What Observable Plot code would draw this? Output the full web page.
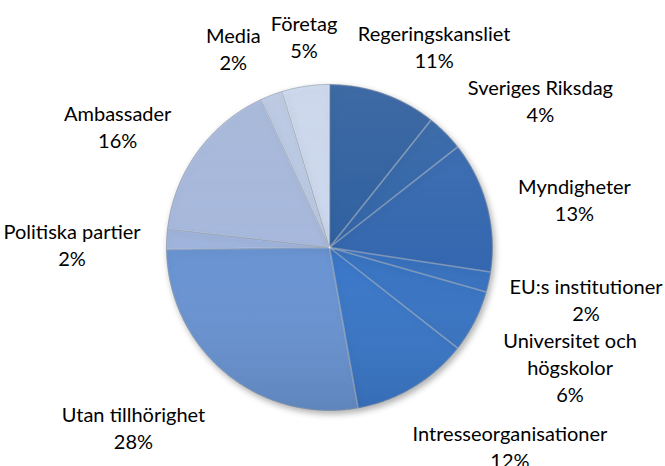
<!DOCTYPE html>
<html><head><meta charset="utf-8">
<script src="https://cdn.jsdelivr.net/npm/d3@7"></script>
<script src="https://cdn.jsdelivr.net/npm/@observablehq/plot@0.6"></script>
<style>
body{margin:0;background:#fff}
#chart svg g.slices{filter: drop-shadow(2px 3px 3px rgba(0,0,0,0.3));}
</style>
</head><body><div id="chart"></div>
<script>
// ---- data ----
const categories = ["Regeringskansliet","Sveriges Riksdag","Myndigheter","EU:s institutioner","Universitet och\nhögskolor","Intresseorganisationer","Utan tillhörighet","Politiska partier","Ambassader","Media","Företag"];
const shares = [10.7, 3.7, 13.0, 2.0, 6.2, 11.6, 27.6, 2.0, 16.3, 2.2, 4.7];
const colors = ["#2f60a0","#3265a8","#3568b0","#3a72bf","#3a75c3","#3b78c8","#6a94d2","#9fb4dc","#a6b8dc","#bccae5","#cdd9ef"];

// ---- layout ----
const W = 665, H = 466, cx = 329, cy = 247, R = 163, gap = 32, dyText = 8;
const fontSize = 20, lh = 1.35, lineH = lh * fontSize;
const fontFamily = "Lato, 'Noto Sans', sans-serif";

const total = d3.sum(shares);
const pie = d3.pie().sort(null).value(d => d)(shares);

// slice outlines
const slicePts = [];
pie.forEach((p, i) => {
  const a0 = p.startAngle, a1 = p.endAngle;
  const n = Math.max(4, Math.ceil((a1 - a0) / 0.01));
  slicePts.push({cat: categories[i], x: 0, y: 0});
  for (let k = 0; k <= n; k++) {
    const t = a0 + (a1 - a0) * k / n;
    slicePts.push({cat: categories[i], x: R * Math.sin(t), y: -R * Math.cos(t)});
  }
});

// labels: placed outside the slice mid-angle
const ctx = document.createElement("canvas").getContext("2d");
ctx.font = `${fontSize}px ${fontFamily}`;
const clamp = v => Math.max(-1, Math.min(1, v));
const labels = pie.map((p, i) => {
  const th = (p.startAngle + p.endAngle) / 2;
  const text = categories[i] + "\n" + Math.round(shares[i] / total * 100) + "%";
  const lines = text.split("\n");
  const w = d3.max(lines, l => ctx.measureText(l).width);
  const h = lines.length * lineH;
  const s = Math.sin(th), c = Math.cos(th);
  return {text, w, h, x: (R + gap) * s + (w / 2) * clamp(1.6 * s), y: -(R + gap) * c - (h / 2) * c};
});
// simple collision resolution between neighbouring labels (along the axis of least overlap)
for (let iter = 0; iter < 3; iter++) {
  for (let i = 0; i < labels.length; i++) {
    const a = labels[i], b = labels[(i + 1) % labels.length];
    const ox = (a.w + b.w) / 2 + 10 - Math.abs(a.x - b.x);
    const oy = (a.h + b.h) / 2 - Math.abs(a.y - b.y);
    if (ox > 0 && oy > 0) {
      if (ox < oy) {
        const dir = a.x < b.x ? -1 : 1;
        a.x += dir * ox / 2; b.x -= dir * ox / 2;
      } else {
        const dir = a.y < b.y ? -1 : 1;
        a.y += dir * oy / 2; b.y -= dir * oy / 2;
      }
    }
  }
}
// keep labels inside the canvas horizontally
labels.forEach(l => {
  l.x = Math.max(-cx + l.w / 2 + 3, Math.min(W - cx - l.w / 2 - 3, l.x));
});

const chart = Plot.plot({
  width: W, height: H, margin: 0,
  x: {domain: [-cx, W - cx], range: [0, W], axis: null},
  y: {domain: [-cy, H - cy], range: [0, H], axis: null},
  color: {domain: categories, range: colors},
  style: {fontFamily, background: "#fff"},
  marks: [
    Plot.line(slicePts, {x: "x", y: "y", z: "cat", fill: "cat", stroke: "#1f3550", strokeOpacity: 0.4, strokeWidth: 1, curve: "linear-closed"}),
    Plot.line(slicePts, {x: "x", y: "y", z: "cat", fill: "url(#shade)", stroke: "#ffffff", strokeOpacity: 0.2, strokeWidth: 1.5, curve: "linear-closed"}),
    Plot.text(labels, {x: "x", y: "y", text: "text", fontSize, lineHeight: lh, dy: dyText, fill: "#000", textAnchor: "middle", lineAnchor: "middle"})
  ]
});
const svg = d3.select(chart);
const grad = svg.insert("defs", ":first-child").append("linearGradient")
  .attr("id", "shade").attr("gradientUnits", "userSpaceOnUse")
  .attr("x1", 0).attr("y1", cy - R).attr("x2", 0).attr("y2", cy + R);
grad.append("stop").attr("offset", "0%").attr("stop-color", "#fff").attr("stop-opacity", 0.08);
grad.append("stop").attr("offset", "55%").attr("stop-color", "#fff").attr("stop-opacity", 0);
grad.append("stop").attr("offset", "100%").attr("stop-color", "#000").attr("stop-opacity", 0.08);
svg.selectAll('g[aria-label="line"]').classed("slices", true);
document.getElementById("chart").appendChild(chart);
</script>
</body></html>
